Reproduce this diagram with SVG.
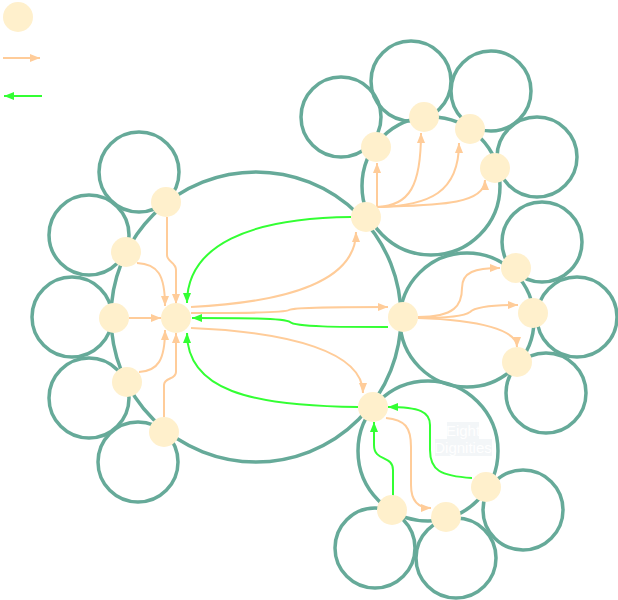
<svg xmlns="http://www.w3.org/2000/svg" width="618" height="600" viewBox="0 0 618 600">
<style>
.ring{fill:none;stroke:#66aa99;stroke-width:3.5}
.node{fill:#fff0cc}
.o{fill:none;stroke:#ffcc99;stroke-width:2}
.g{fill:none;stroke:#33ff33;stroke-width:2}
.lbl{font-family:"Liberation Sans",Arial,sans-serif;font-size:15px;fill:#ffffff;text-anchor:middle}
</style>
<defs>
<marker id="ao" markerWidth="10" markerHeight="8" refX="10" refY="4" orient="auto" markerUnits="userSpaceOnUse"><path d="M0,0 L10,4 L0,8 z" fill="#ffcc99"/></marker>
<marker id="ag" markerWidth="10" markerHeight="8" refX="10" refY="4" orient="auto" markerUnits="userSpaceOnUse"><path d="M0,0 L10,4 L0,8 z" fill="#33ff33"/></marker>
</defs>
<rect width="618" height="600" fill="#ffffff"/>
<g id="rings">
<circle class="ring" cx="256" cy="317" r="145"/>
<circle class="ring" cx="431" cy="186" r="69"/>
<circle class="ring" cx="467" cy="320" r="67"/>
<circle class="ring" cx="428" cy="451" r="70"/>
<circle class="ring" cx="139" cy="172" r="40"/>
<circle class="ring" cx="89" cy="235" r="40"/>
<circle class="ring" cx="72" cy="317" r="40"/>
<circle class="ring" cx="89" cy="398" r="40"/>
<circle class="ring" cx="138" cy="462" r="40"/>
<circle class="ring" cx="341" cy="117" r="40"/>
<circle class="ring" cx="411" cy="81" r="40"/>
<circle class="ring" cx="491" cy="91" r="40"/>
<circle class="ring" cx="537" cy="157" r="40"/>
<circle class="ring" cx="542" cy="242" r="40"/>
<circle class="ring" cx="577" cy="317" r="40"/>
<circle class="ring" cx="546" cy="393" r="40"/>
<circle class="ring" cx="523" cy="510" r="40"/>
<circle class="ring" cx="456" cy="558" r="40"/>
<circle class="ring" cx="375" cy="548" r="40"/>
</g>
<g id="label">
<rect x="447" y="422" width="32" height="17" fill="#f3f6f8"/>
<rect x="435" y="439" width="57" height="17" fill="#f3f6f8"/>
<text class="lbl" x="463" y="436">Eight</text>
<text class="lbl" x="463" y="453">Dignities</text>
</g>
<g id="connectors">
<path class="o" d="M3,58 L40,58" marker-end="url(#ao)"/>
<path class="g" d="M42,96 L4,96" marker-end="url(#ag)"/>
<path class="o" d="M167,217 L167,255 C167,262 176,262 176,270 L176,304" marker-end="url(#ao)"/>
<path class="o" d="M137,263 C158,264 165,275 165,306" marker-end="url(#ao)"/>
<path class="o" d="M129,318 L161,318" marker-end="url(#ao)"/>
<path class="o" d="M139,372 C158,371 165,360 165,330" marker-end="url(#ao)"/>
<path class="o" d="M164,417 L164,385 C164,377 176,380 176,372 L176,333" marker-end="url(#ao)"/>
<path class="o" d="M191,307 C290,302 356,280 356,232" marker-end="url(#ao)"/>
<path class="o" d="M191,313 C240,313 284,313 289,310 C294,307 340,307 388,307" marker-end="url(#ao)"/>
<path class="o" d="M191,328 C290,332 363,352 363,393" marker-end="url(#ao)"/>
<path class="g" d="M351,217 C250,218 187,245 187,303" marker-end="url(#ag)"/>
<path class="g" d="M388,327 C340,327 295,327 290,322 C285,318 240,318 192,318" marker-end="url(#ag)"/>
<path class="g" d="M358,407 C250,406 187,390 187,333" marker-end="url(#ag)"/>
<path class="o" d="M377,207 L377,163" marker-end="url(#ao)"/>
<path class="o" d="M377,207 C410,206 421,185 421,133" marker-end="url(#ao)"/>
<path class="o" d="M377,207 C430,206 459,192 459,143" marker-end="url(#ao)"/>
<path class="o" d="M377,207 C430,205 485,206 485,180" marker-end="url(#ao)"/>
<path class="o" d="M418,317 C455,317 462,305 462,288 C462,272 475,268 500,268" marker-end="url(#ao)"/>
<path class="o" d="M418,318 C450,318 465,316 470,312 C474,308 490,305 518,305" marker-end="url(#ao)"/>
<path class="o" d="M418,318 C480,320 517,330 517,347" marker-end="url(#ao)"/>
<path class="o" d="M386,418 C405,420 411,427 411,447 L411,485 C411,500 418,508 431,508" marker-end="url(#ao)"/>
<path class="g" d="M472,478 C440,476 430,470 430,450 L430,425 C430,412 420,407 388,407" marker-end="url(#ag)"/>
<path class="g" d="M393,496 L393,470 C393,455 374,462 374,445 L374,422" marker-end="url(#ag)"/>
</g>
<g id="n-legend"><circle class="node" cx="18" cy="17" r="15"/></g>
<g id="n-center"><circle class="node" cx="176" cy="318" r="15"/></g>
<g id="n-l1"><circle class="node" cx="166" cy="202" r="15"/></g>
<g id="n-l2"><circle class="node" cx="126" cy="252" r="15"/></g>
<g id="n-l3"><circle class="node" cx="114" cy="318" r="15"/></g>
<g id="n-l4"><circle class="node" cx="127" cy="382" r="15"/></g>
<g id="n-l5"><circle class="node" cx="164" cy="432" r="15"/></g>
<g id="n-top"><circle class="node" cx="366" cy="217" r="15"/></g>
<g id="n-t1"><circle class="node" cx="376" cy="147" r="15"/></g>
<g id="n-t2"><circle class="node" cx="424" cy="117" r="15"/></g>
<g id="n-t3"><circle class="node" cx="470" cy="129" r="15"/></g>
<g id="n-t4"><circle class="node" cx="495" cy="168" r="15"/></g>
<g id="n-right"><circle class="node" cx="403" cy="317" r="15"/></g>
<g id="n-r1"><circle class="node" cx="516" cy="268" r="15"/></g>
<g id="n-r2"><circle class="node" cx="533" cy="313" r="15"/></g>
<g id="n-r3"><circle class="node" cx="517" cy="362" r="15"/></g>
<g id="n-bottom"><circle class="node" cx="373" cy="407" r="15"/></g>
<g id="n-b1"><circle class="node" cx="486" cy="487" r="15"/></g>
<g id="n-b2"><circle class="node" cx="446" cy="517" r="15"/></g>
<g id="n-b3"><circle class="node" cx="392" cy="510" r="15"/></g>
</svg>
